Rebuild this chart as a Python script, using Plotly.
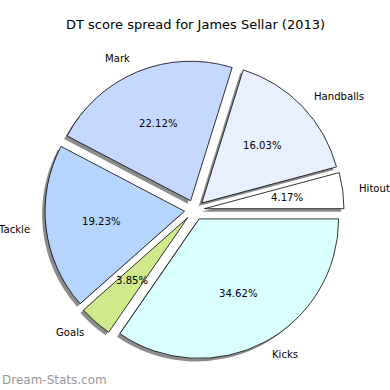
import numpy as np
import plotly.graph_objects as go

labels = ["Hitout", "Handballs", "Mark", "Tackle", "Goals", "Kicks"]
values = [13, 50, 69, 60, 12, 108]
colors = ["#ffffff", "#e8f0ff", "#c5d8ff", "#b5d5ff", "#d0ea8b", "#d9ffff"]
title = "DT score spread for James Sellar (2013)"

W = H = 390
CX, CY = 194.5, 210.0   # pie centre, px
R = 139.5               # pie radius, px
PULL = 0.072
D = R * PULL
HALF = R * (1 + PULL)
SH = 3.0                # shadow offset px

vals = np.array(values, dtype=float)
frac = vals / vals.sum()
ROT = 90 - 360 * frac[0]


def dom(cx, cy):
    return dict(x=[(cx - HALF) / W, (cx + HALF) / W],
                y=[1 - (cy + HALF) / H, 1 - (cy - HALF) / H])


fig = go.Figure()
fig.add_trace(go.Pie(labels=labels, values=values, sort=False,
                     direction="counterclockwise", rotation=ROT,
                     pull=[PULL] * len(values), textinfo="none",
                     marker=dict(colors=["#8c8c8c"] * len(values),
                                 line=dict(width=0)),
                     domain=dom(CX - SH, CY + SH), showlegend=False,
                     hoverinfo="skip"))
fig.add_trace(go.Pie(labels=labels, values=values, sort=False,
                     direction="counterclockwise", rotation=ROT,
                     pull=[PULL] * len(values), textinfo="none",
                     marker=dict(colors=colors,
                                 line=dict(color="black", width=0.8)),
                     domain=dom(CX, CY), showlegend=False))

ends = np.cumsum(frac) * 2 * np.pi
starts = ends - frac * 2 * np.pi
mids = (starts + ends) / 2

annotations = []
font = dict(family="DejaVu Sans", size=10.1, color="black")
for lab, f, th in zip(labels, frac, mids):
    ux, uy = np.cos(th), np.sin(th)
    lx = CX + (D + 1.1 * R) * ux
    ly = CY - (D + 1.1 * R) * uy
    annotations.append(dict(x=lx / W, y=1 - ly / H, xref="paper", yref="paper",
                            text=lab, showarrow=False, font=font,
                            xanchor="left" if ux > 0 else "right",
                            yanchor="middle"))
    px = CX + (D + 0.6 * R) * ux
    py = CY - (D + 0.6 * R) * uy
    annotations.append(dict(x=px / W, y=1 - py / H, xref="paper", yref="paper",
                            text=f"{f * 100:.2f}%", showarrow=False, font=font,
                            xanchor="center", yanchor="middle"))

annotations.append(dict(x=0.5, y=1 - 25 / H, xref="paper", yref="paper",
                        text=title, showarrow=False,
                        font=dict(family="DejaVu Sans", size=13, color="black"),
                        xanchor="center", yanchor="middle"))
annotations.append(dict(x=0, y=1 - 380 / H, xref="paper", yref="paper",
                        text="Dream-Stats.com", showarrow=False,
                        font=dict(family="DejaVu Sans", size=12, color="#999999"),
                        xanchor="left", yanchor="middle"))

fig.update_layout(width=W, height=H, margin=dict(l=0, r=0, t=0, b=0),
                  paper_bgcolor="white", plot_bgcolor="white",
                  annotations=annotations)
fig.write_html("out.html")
